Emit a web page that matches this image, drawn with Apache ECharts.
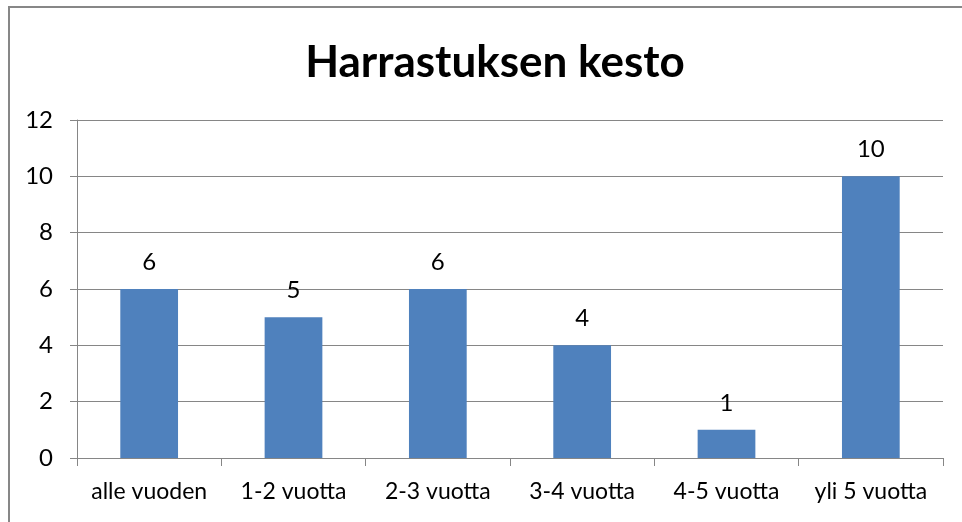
<!DOCTYPE html>
<html>
<head>
<meta charset="utf-8">
<script src="https://cdn.jsdelivr.net/npm/echarts@6/dist/echarts.min.js"></script>
<style>
  html, body { margin: 0; padding: 0; background: #fff; overflow: hidden; }
  #frame { position: absolute; left: 8px; top: 6px; width: 1000px; height: 600px; border: 2px solid #878787; box-sizing: border-box; }
  #chart { position: absolute; left: 0; top: 0; width: 962px; height: 522px; }
</style>
</head>
<body>
<div id="frame"></div>
<div id="chart"></div>
<script>
const categories = ["alle vuoden", "1-2 vuotta", "2-3 vuotta", "3-4 vuotta", "4-5 vuotta", "yli 5 vuotta"];
const values = [6, 5, 6, 4, 1, 10];
const titleText = "Harrastuksen kesto";

const chart = echarts.init(document.getElementById("chart"));
const font = "Lato, 'Open Sans', sans-serif";

chart.setOption({
  animation: false,
  title: {
    text: titleText,
    left: 490,
    textAlign: "center",
    top: 36,
    textStyle: { fontFamily: font, fontSize: 44, fontWeight: "bold", color: "#000" },
  },
  grid: { left: 77, right: 19, top: 120, bottom: 64, containLabel: false },
  xAxis: {
    type: "category",
    data: categories,
    axisLine: { lineStyle: { color: "#868686", width: 1 } },
    axisTick: { show: true, length: 8, lineStyle: { color: "#868686" } },
    axisLabel: { fontFamily: font, fontSize: 23, color: "#000", margin: 22, interval: 0, hideOverlap: false },
  },
  yAxis: {
    type: "value",
    min: 0,
    max: 12,
    interval: 2,
    axisLine: { show: true, lineStyle: { color: "#868686", width: 1 } },
    axisTick: { show: true, length: 7, lineStyle: { color: "#868686" } },
    axisLabel: { fontFamily: font, fontSize: 24, color: "#000", margin: 24 },
    splitLine: { lineStyle: { color: "#868686", width: 1 } },
  },
  series: [
    {
      type: "bar",
      data: values,
      barCategoryGap: "60%",
      itemStyle: { color: "#4F81BD" },
      label: {
        show: true,
        position: "top",
        distance: 15,
        fontFamily: font,
        fontSize: 24,
        color: "#000",
      },
    },
  ],
});
</script>
</body>
</html>
